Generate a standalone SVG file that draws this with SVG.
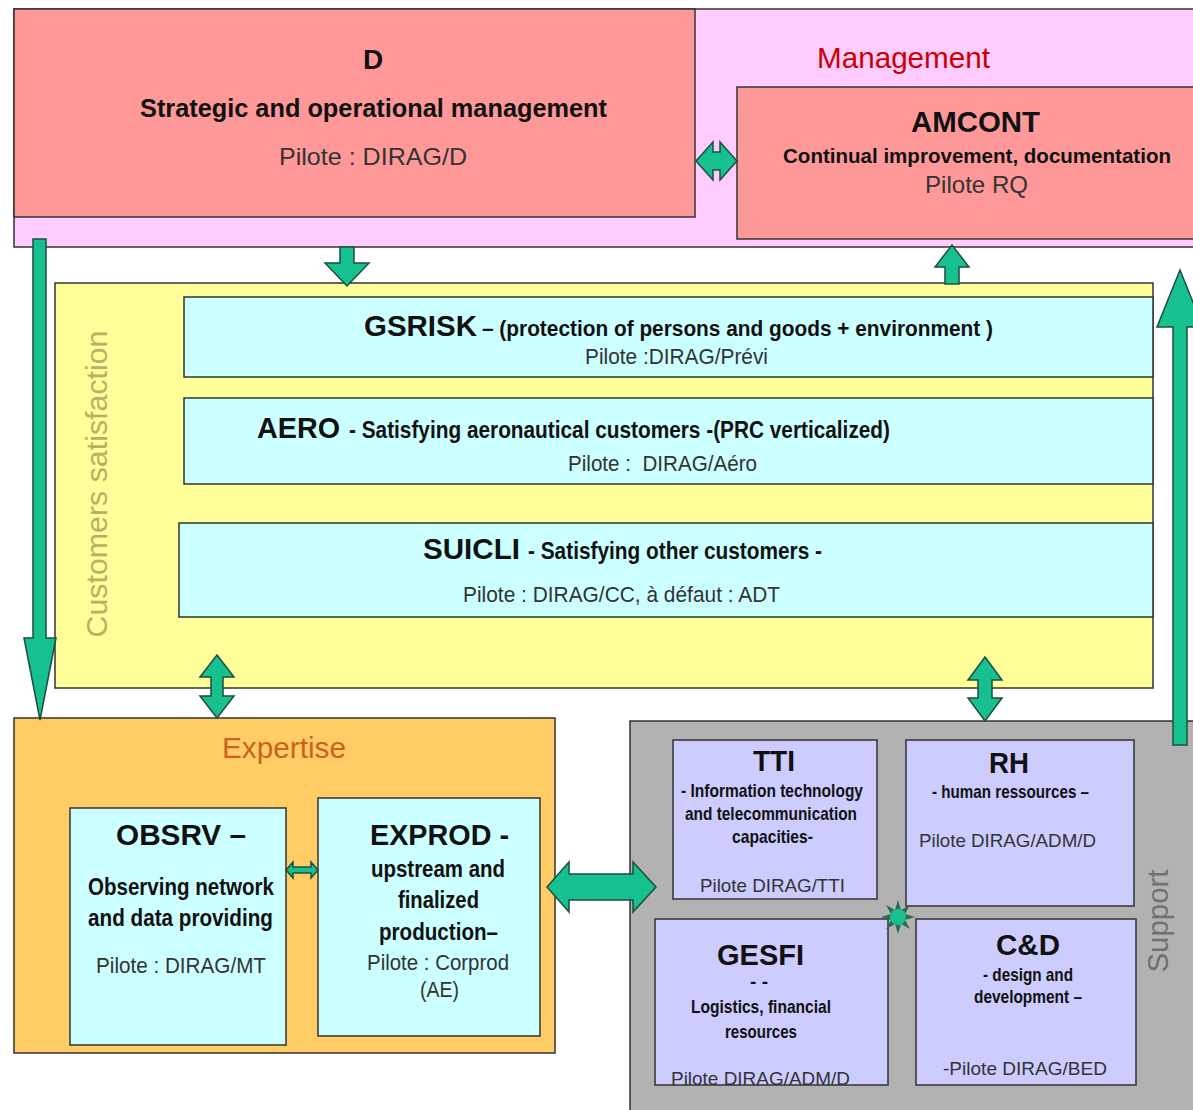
<svg xmlns="http://www.w3.org/2000/svg" width="1193" height="1110" viewBox="0 0 1193 1110">
<style>
text{font-family:"Liberation Sans",Arial,sans-serif;fill:#111}
.b{font-weight:bold}
.p{fill:#333}
.box{stroke:#333;stroke-width:1.5}
.mg{fill:#FFCCFF}
.rd{fill:#FF9999}
.yl{fill:#FFFF99}
.cy{fill:#CCFFFF}
.or{fill:#FFCC66}
.gr{fill:#B2B2B2}
.lv{fill:#CCCCFF}
.arr{fill:#16C08F;stroke:#1F4D3F;stroke-width:1.5;stroke-linejoin:miter}
</style>
<defs>
<clipPath id="gesfiClip"><rect x="655" y="919" width="233" height="166"/></clipPath>
</defs>
<rect width="1193" height="1110" fill="#fff"/>

<g id="management">
<rect class="box mg" x="14" y="9" width="1182" height="238"/>
<text x="817" y="68" font-size="29" textLength="173" lengthAdjust="spacingAndGlyphs" style="fill:#C80000">Management</text>
</g>

<g id="node-D">
<rect class="box rd" x="14" y="9" width="681" height="208"/>
<text class="b" x="373" y="69" font-size="28" text-anchor="middle">D</text>
<text class="b" x="140" y="117" font-size="25" textLength="467" lengthAdjust="spacingAndGlyphs">Strategic and operational management</text>
<text class="p" x="279" y="165" font-size="24" textLength="188" lengthAdjust="spacingAndGlyphs">Pilote : DIRAG/D</text>
</g>

<g id="node-AMCONT">
<rect class="box rd" x="737" y="87" width="459" height="152"/>
<text class="b" x="911" y="132" font-size="30" textLength="129" lengthAdjust="spacingAndGlyphs">AMCONT</text>
<text class="b" x="783" y="163" font-size="20.5" textLength="388" lengthAdjust="spacingAndGlyphs">Continual improvement, documentation</text>
<text class="p" x="925" y="193" font-size="24" textLength="103" lengthAdjust="spacingAndGlyphs">Pilote RQ</text>
</g>

<g id="customers">
<rect class="box yl" x="55" y="283" width="1098" height="405"/>
<text transform="translate(107,484) rotate(-90)" x="0" y="0" font-size="30" text-anchor="middle" textLength="307" lengthAdjust="spacingAndGlyphs" style="fill:#B8B066">Customers satisfaction</text>
</g>

<g id="node-GSRISK">
<rect class="box cy" x="184" y="297" width="969" height="80"/>
<text class="b" x="364" y="336" font-size="30" textLength="113" lengthAdjust="spacingAndGlyphs">GSRISK</text>
<text class="b" x="482" y="336" font-size="22" textLength="511" lengthAdjust="spacingAndGlyphs">– (protection of persons and goods + environment )</text>
<text class="p" x="585" y="364" font-size="22" textLength="183" lengthAdjust="spacingAndGlyphs">Pilote :DIRAG/Prévi</text>
</g>

<g id="node-AERO">
<rect class="box cy" x="184" y="398" width="969" height="86"/>
<text class="b" x="257" y="438" font-size="30" textLength="83" lengthAdjust="spacingAndGlyphs">AERO</text>
<text class="b" x="349" y="438" font-size="23" textLength="541" lengthAdjust="spacingAndGlyphs">- Satisfying aeronautical customers -(PRC verticalized)</text>
<text class="p" x="568" y="471" font-size="22" textLength="189" lengthAdjust="spacingAndGlyphs" style="white-space:pre">Pilote :  DIRAG/Aéro</text>
</g>

<g id="node-SUICLI">
<rect class="box cy" x="179" y="523" width="974" height="94"/>
<text class="b" x="423" y="559" font-size="30" textLength="97" lengthAdjust="spacingAndGlyphs">SUICLI</text>
<text class="b" x="528" y="559" font-size="23" textLength="294" lengthAdjust="spacingAndGlyphs">- Satisfying other customers -</text>
<text class="p" x="463" y="602" font-size="22" textLength="317" lengthAdjust="spacingAndGlyphs">Pilote : DIRAG/CC, à défaut : ADT</text>
</g>

<g id="expertise">
<rect class="box or" x="14" y="718" width="541" height="335"/>
<text x="222" y="758" font-size="30" textLength="124" lengthAdjust="spacingAndGlyphs" style="fill:#C8641E">Expertise</text>
</g>

<g id="node-OBSRV">
<rect class="box cy" x="70" y="808" width="216" height="237"/>
<text class="b" x="116" y="845" font-size="29" textLength="130" lengthAdjust="spacingAndGlyphs">OBSRV –</text>
<text class="b" x="88" y="895" font-size="24" textLength="186" lengthAdjust="spacingAndGlyphs">Observing network</text>
<text class="b" x="88" y="926" font-size="24" textLength="185" lengthAdjust="spacingAndGlyphs">and data providing</text>
<text class="p" x="96" y="973" font-size="22" textLength="170" lengthAdjust="spacingAndGlyphs">Pilote : DIRAG/MT</text>
</g>

<g id="node-EXPROD">
<rect class="box cy" x="318" y="798" width="222" height="238"/>
<text class="b" x="370" y="845" font-size="29" textLength="139" lengthAdjust="spacingAndGlyphs">EXPROD -</text>
<text class="b" x="371" y="877" font-size="24" textLength="134" lengthAdjust="spacingAndGlyphs">upstream and</text>
<text class="b" x="398" y="908" font-size="24" textLength="81" lengthAdjust="spacingAndGlyphs">finalized</text>
<text class="b" x="379" y="940" font-size="24" textLength="119" lengthAdjust="spacingAndGlyphs">production–</text>
<text class="p" x="367" y="970" font-size="22" textLength="142" lengthAdjust="spacingAndGlyphs">Pilote : Corprod</text>
<text class="p" x="420" y="997" font-size="22" textLength="39" lengthAdjust="spacingAndGlyphs">(AE)</text>
</g>

<g id="support">
<rect class="box gr" x="630" y="721" width="600" height="400"/>
<text transform="translate(1168,921) rotate(-90)" x="0" y="0" font-size="30" text-anchor="middle" textLength="103" lengthAdjust="spacingAndGlyphs" style="fill:#707070">Support</text>
</g>

<g id="node-TTI">
<rect class="box lv" x="673" y="740" width="204" height="159"/>
<text class="b" x="753" y="771" font-size="29" textLength="42" lengthAdjust="spacingAndGlyphs">TTI</text>
<text class="b" x="681" y="797" font-size="19" textLength="182" lengthAdjust="spacingAndGlyphs">- Information technology</text>
<text class="b" x="685" y="820" font-size="19" textLength="172" lengthAdjust="spacingAndGlyphs">and telecommunication</text>
<text class="b" x="732" y="843" font-size="19" textLength="81" lengthAdjust="spacingAndGlyphs">capacities-</text>
<text class="p" x="700" y="892" font-size="19" textLength="145" lengthAdjust="spacingAndGlyphs">Pilote DIRAG/TTI</text>
</g>

<g id="node-RH">
<rect class="box lv" x="906" y="740" width="228" height="166"/>
<text class="b" x="989" y="773" font-size="29" textLength="40" lengthAdjust="spacingAndGlyphs">RH</text>
<text class="b" x="932" y="798" font-size="19" textLength="157" lengthAdjust="spacingAndGlyphs">- human ressources –</text>
<text class="p" x="919" y="847" font-size="19" textLength="177" lengthAdjust="spacingAndGlyphs">Pilote DIRAG/ADM/D</text>
</g>

<g id="node-GESFI">
<rect class="lv" x="655" y="919" width="233" height="166"/>
<text class="b" x="717" y="965" font-size="29" textLength="87" lengthAdjust="spacingAndGlyphs">GESFI</text>
<text class="b" x="759" y="988" font-size="19" text-anchor="middle">- -</text>
<text class="b" x="691" y="1013" font-size="19" textLength="140" lengthAdjust="spacingAndGlyphs">Logistics, financial</text>
<text class="b" x="725" y="1038" font-size="19" textLength="72" lengthAdjust="spacingAndGlyphs">resources</text>
<text class="p" x="671" y="1085" font-size="19" textLength="179" lengthAdjust="spacingAndGlyphs" clip-path="url(#gesfiClip)">Pilote DIRAG/ADM/D</text>
<rect class="box" fill="none" x="655" y="919" width="233" height="166"/>
</g>

<g id="node-CD">
<rect class="box lv" x="916" y="919" width="220" height="166"/>
<text class="b" x="996" y="955" font-size="29" textLength="64" lengthAdjust="spacingAndGlyphs">C&amp;D</text>
<text class="b" x="983" y="981" font-size="19" textLength="90" lengthAdjust="spacingAndGlyphs">- design and</text>
<text class="b" x="974" y="1003" font-size="19" textLength="108" lengthAdjust="spacingAndGlyphs">development –</text>
<text class="p" x="943" y="1075" font-size="19" textLength="164" lengthAdjust="spacingAndGlyphs">-Pilote DIRAG/BED</text>
</g>

<g id="connectors">
<polygon class="arr" points="696,161 713,142 713,152 720,152 720,142 737,161 720,180 720,170 713,170 713,180"/>
<polygon class="arr" points="340,247 354,247 354,263 369,263 347,286 325,263 340,263"/>
<polygon class="arr" points="945,284 959,284 959,267 969,267 952,245 935,267 945,267"/>
<polygon class="arr" points="33,239 46,239 46,638 56,638 40,720 24,638 33,638"/>
<polygon class="arr" points="1173,745 1187,745 1187,327 1203,327 1180,270 1157,327 1173,327"/>
<polygon class="arr" points="217,655 234,677 223,677 223,696 234,696 217,718 200,696 211,696 211,677 200,677"/>
<polygon class="arr" points="985,657 1002,680 992,680 992,698 1002,698 985,721 968,698 978,698 978,680 968,680"/>
<polygon class="arr" points="547,887 569,862 569,874 633,874 633,862 656,887 633,912 633,900 569,900 569,912"/>
<polygon class="arr" points="286,870 293,862 293,867 311,867 311,862 318,870 311,878 311,873 293,873 293,878"/>
<g id="sun">
<polygon fill="#2E6B50" points="898,900 901,910 910,905 905,914 915,917 905,920 910,929 901,924 898,934 895,924 886,929 891,920 881,917 891,914 886,905 895,910"/>
<circle cx="898" cy="917" r="8" fill="#16C08F"/>
</g>
</g>
</svg>
